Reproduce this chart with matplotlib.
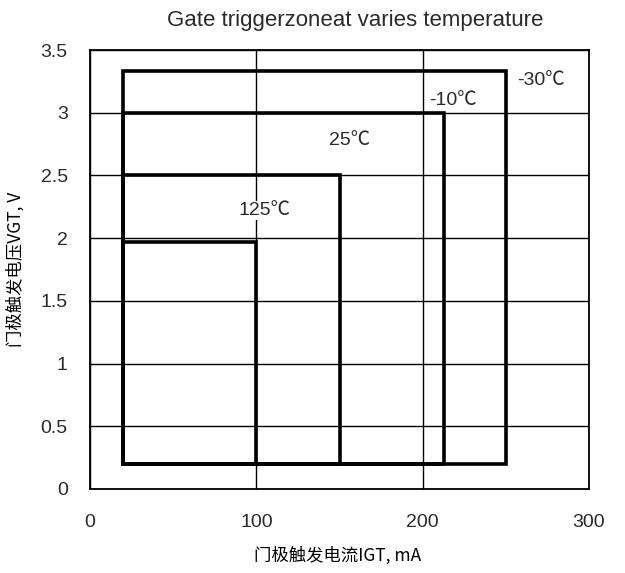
import matplotlib
matplotlib.use("Agg")
import matplotlib.pyplot as plt

# trigger zones: (label, I_GT min, I_GT max, V_GT min, V_GT max)
temps = ["-30℃", "-10℃", "25℃", "125℃"]
i_min = [20, 20, 20, 20]
i_max = [250, 213, 150, 100]
v_min = [0.2, 0.2, 0.2, 0.2]
v_max = [3.33, 3.0, 2.5, 1.97]
# where the temperature labels sit
lab_x = [271, 218, 156, 105]
lab_y = [3.26, 3.10, 2.78, 2.22]

xticks = [0, 100, 200, 300]
yticks = [0, 0.5, 1, 1.5, 2, 2.5, 3, 3.5]
yticklabels = ["0", "0.5", "1", "1.5", "2", "2.5", "3", "3.5"]

latin = ['Liberation Sans', 'Noto Sans CJK SC', 'DejaVu Sans']
cjk = ['Noto Sans CJK SC', 'DejaVu Sans']

fig = plt.figure(figsize=(6.25, 5.73), dpi=100)
ax = fig.add_axes([0.144, 0.1466, 0.7984, 0.7661])

ax.set_xlim(0, 300)
ax.set_ylim(0, 3.5)
ax.set_xticks(xticks)
ax.set_yticks(yticks)
ax.set_yticklabels(yticklabels)
ax.grid(True, color='black', linewidth=1.0)
ax.set_axisbelow(True)
ax.tick_params(length=0, labelsize=14, labelcolor='#2a2a2a')
ax.tick_params(axis='x', pad=18)
ax.tick_params(axis='y', pad=16)
for lb in ax.get_xticklabels() + ax.get_yticklabels():
    lb.set_family(latin)
for s in ax.spines.values():
    s.set_linewidth(1.3)

for k in range(len(temps)):
    xs = [i_min[k], i_max[k], i_max[k], i_min[k], i_min[k]]
    ys = [v_min[k], v_min[k], v_max[k], v_max[k], v_min[k]]
    ax.plot(xs, ys, color='black', linewidth=2.6, solid_joinstyle='miter', zorder=3)
    ax.text(lab_x[k], lab_y[k], temps[k], ha='center', va='center', fontsize=14,
            color='#2a2a2a', family=latin, zorder=4,
            bbox=dict(facecolor='white', edgecolor='none', pad=1.0))

fig.text(0.568, 0.965, "Gate triggerzoneat varies temperature", fontsize=16,
         family=latin, color='#2a2a2a', ha='center', va='center')
fig.text(0.54, 0.031, "门极触发电流IGT, mA", fontsize=12.5, family=cjk,
         ha='center', va='center')
fig.text(0.024, 0.53, "门极触发电压VGT, V", fontsize=12.5, family=cjk,
         ha='center', va='center', rotation=90)

fig.savefig("out.png", dpi=100, facecolor='white')
